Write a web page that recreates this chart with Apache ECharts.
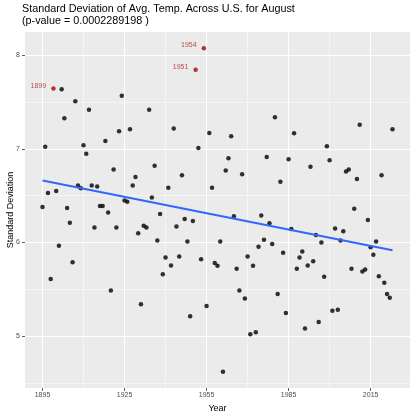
<!DOCTYPE html>
<html>
<head>
<meta charset="utf-8">
<script src="https://cdn.jsdelivr.net/npm/echarts@6/dist/echarts.min.js"></script>
<style>
  html, body { margin: 0; padding: 0; background: #ffffff; }
  #chart { width: 412px; height: 417px; }
</style>
</head>
<body>
<div id="chart"></div>
<script>
// August temperature standard deviation across the U.S., one value per year
const years = [
  1895, 1896, 1897, 1898, 1899, 1900, 1901, 1902, 1903, 1904,
  1905, 1906, 1907, 1908, 1909, 1910, 1911, 1912, 1913, 1914,
  1915, 1916, 1917, 1918, 1919, 1920, 1921, 1922, 1923, 1924,
  1925, 1926, 1927, 1928, 1929, 1930, 1931, 1932, 1933, 1934,
  1935, 1936, 1937, 1938, 1939, 1940, 1941, 1942, 1943, 1944,
  1945, 1946, 1947, 1948, 1949, 1950, 1951, 1952, 1953, 1954,
  1955, 1956, 1957, 1958, 1959, 1960, 1961, 1962, 1963, 1964,
  1965, 1966, 1967, 1968, 1969, 1970, 1971, 1972, 1973, 1974,
  1975, 1976, 1977, 1978, 1979, 1980, 1981, 1982, 1983, 1984,
  1985, 1986, 1987, 1988, 1989, 1990, 1991, 1992, 1993, 1994,
  1995, 1996, 1997, 1998, 1999, 2000, 2001, 2002, 2003, 2004,
  2005, 2006, 2007, 2008, 2009, 2010, 2011, 2012, 2013, 2014,
  2015, 2016, 2017, 2018, 2019, 2020, 2021, 2022, 2023
];
const stdDev = [
  6.38, 7.025, 6.53, 5.61, 7.646, 6.55, 5.965, 7.64, 7.33, 6.37,
  6.21, 5.79, 7.51, 6.61, 6.58, 7.04, 6.95, 7.42, 6.61, 6.16,
  6.60, 6.39, 6.39, 7.085, 6.32, 5.486, 6.78, 6.16, 7.19, 7.57,
  6.45, 6.436, 7.21, 6.61, 6.70, 6.10, 5.34, 6.18, 6.16, 7.42,
  6.48, 6.82, 6.02, 6.305, 5.66, 5.84, 6.585, 5.755, 7.22, 6.17,
  5.85, 6.72, 6.25, 6.01, 5.21, 6.23, 7.848, 7.01, 5.82, 8.078,
  5.32, 7.17, 6.585, 5.78, 5.75, 6.01, 4.617, 6.77, 6.90, 7.135,
  6.28, 5.72, 5.486, 6.73, 5.40, 5.85, 5.02, 5.75, 5.04, 5.955,
  6.29, 6.03, 6.915, 6.205, 5.985, 7.34, 5.45, 6.65, 5.89, 5.245,
  6.89, 6.145, 7.167, 5.72, 5.84, 5.905, 5.08, 5.755, 6.81, 5.80,
  6.08, 5.15, 6.00, 5.635, 7.03, 6.88, 5.27, 6.15, 5.28, 6.02,
  6.12, 6.76, 6.78, 5.72, 6.36, 6.68, 7.26, 5.69, 5.71, 6.24,
  5.95, 5.87, 6.01, 5.64, 6.72, 5.57, 5.45, 5.41, 7.21
];
const labelledYears = [1899, 1951, 1954];
const xTicks = [1895, 1925, 1955, 1985, 2015];
const xMinorLines = [1910, 1940, 1970, 2000];
const yTicks = [5, 6, 7, 8];
const yMinorLines = [4.5, 5.5, 6.5, 7.5];
const titleLines = [
  'Standard Deviation of Avg. Temp. Across U.S. for August',
  '(p-value = 0.0002289198 )'
];

// Ordinary least squares fit of value on year
function linearFit(xs, ys) {
  const n = xs.length;
  let sx = 0, sy = 0;
  for (let i = 0; i < n; i++) { sx += xs[i]; sy += ys[i]; }
  const mx = sx / n, my = sy / n;
  let sxy = 0, sxx = 0;
  for (let i = 0; i < n; i++) {
    sxy += (xs[i] - mx) * (ys[i] - my);
    sxx += (xs[i] - mx) * (xs[i] - mx);
  }
  const slope = sxy / sxx;
  return { slope: slope, intercept: my - slope * mx };
}
const fit = linearFit(years, stdDev);
const xFirst = years[0], xLast = years[years.length - 1];
const fitLine = [
  [xFirst, fit.intercept + fit.slope * xFirst],
  [xLast, fit.intercept + fit.slope * xLast]
];

// Axis limits padded 5% on each side of the data range
function padded(values) {
  const lo = Math.min.apply(null, values), hi = Math.max.apply(null, values);
  const pad = (hi - lo) * 0.05;
  return [lo - pad, hi + pad];
}
const xRange = padded(years);
const yRange = padded(stdDev);

const plainPoints = [], redPoints = [];
years.forEach(function (y, i) {
  if (labelledYears.indexOf(y) >= 0) redPoints.push([y, stdDev[i]]);
  else plainPoints.push([y, stdDev[i]]);
});

const fontFamily = '"Liberation Sans", Arial, sans-serif';

const minorGrid = []
  .concat(xMinorLines.map(function (v) { return { xAxis: v }; }))
  .concat(yMinorLines.map(function (v) { return { yAxis: v }; }));

const chart = echarts.init(document.getElementById('chart'), null, { renderer: 'canvas' });
chart.setOption({
  animation: false,
  textStyle: { fontFamily: fontFamily },
  title: {
    text: titleLines.join('\n'),
    left: 22,
    top: 3,
    padding: 0,
    textStyle: { fontSize: 10.8, fontWeight: 'normal', color: '#000000', lineHeight: 12, fontFamily: fontFamily }
  },
  grid: {
    left: 25, right: 2, top: 32, bottom: 29,
    show: true, backgroundColor: '#EBEBEB', borderWidth: 0,
    containLabel: false,
    outerBoundsMode: 'none'
  },
  xAxis: {
    type: 'value',
    min: xRange[0], max: xRange[1],
    name: 'Year', nameLocation: 'middle', nameGap: 14,
    nameTextStyle: { fontSize: 9, color: '#000000', fontFamily: fontFamily },
    axisLine: { show: false },
    axisTick: { show: true, length: 3, lineStyle: { color: '#333333', width: 0.8 }, customValues: xTicks },
    axisLabel: {
      customValues: xTicks, fontSize: 7, color: '#4D4D4D', margin: 4,
      formatter: function (v) { return String(Math.round(v)); }
    },
    splitLine: { show: true, lineStyle: { color: '#FFFFFF', width: 1 } }
  },
  yAxis: {
    type: 'value',
    min: yRange[0], max: yRange[1],
    name: 'Standard Deviation', nameLocation: 'middle', nameGap: 10, nameRotate: 90,
    nameMoveOverlap: false,
    nameTextStyle: { fontSize: 9, color: '#000000', fontFamily: fontFamily },
    axisLine: { show: false },
    axisTick: { show: true, length: 3, lineStyle: { color: '#333333', width: 0.8 }, customValues: yTicks },
    axisLabel: {
      customValues: yTicks, fontSize: 7, color: '#4D4D4D', margin: 5,
      formatter: function (v) { return String(Math.round(v)); }
    },
    splitLine: { show: true, lineStyle: { color: '#FFFFFF', width: 1 } }
  },
  series: [
    {
      type: 'line',
      data: [],
      z: 0,
      silent: true,
      markLine: {
        silent: true,
        z: 0,
        symbol: ['none', 'none'],
        label: { show: false },
        emphasis: { disabled: true },
        lineStyle: { color: '#FFFFFF', width: 0.5, type: 'solid' },
        data: minorGrid
      }
    },
    {
      type: 'scatter',
      data: plainPoints,
      symbolSize: 4.5,
      itemStyle: { color: '#000000' },
      z: 2
    },
    {
      type: 'scatter',
      data: redPoints,
      symbolSize: 4.5,
      itemStyle: { color: '#B00000' },
      label: {
        show: true,
        position: 'left',
        distance: 5,
        offset: [0, -3],
        fontSize: 7,
        color: '#B22222',
        formatter: function (p) { return String(p.value[0]); }
      },
      z: 3
    },
    {
      type: 'line',
      data: fitLine,
      symbol: 'none',
      lineStyle: { color: '#3366FF', width: 2 },
      z: 4
    }
  ]
});
</script>
</body>
</html>
